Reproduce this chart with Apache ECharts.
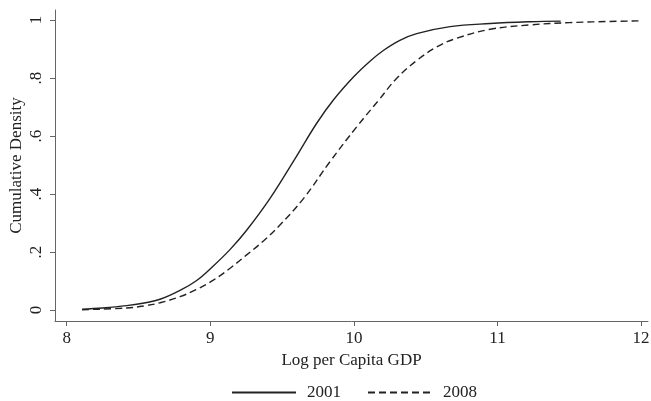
<!DOCTYPE html>
<html>
<head>
<meta charset="utf-8">
<script src="https://cdn.jsdelivr.net/npm/echarts@6/dist/echarts.min.js"></script>
<style>html,body{margin:0;padding:0;background:#fff;}#c{width:651px;height:401px;}</style>
</head>
<body>
<div id="c"></div>
<script>
const seriesNames = ['2001', '2008'];
const xTicks = [8, 9, 10, 11, 12];
const yTicks = [0, 0.2, 0.4, 0.6, 0.8, 1];
const cdf2001 = [[8.107,0.003],[8.25,0.007],[8.418,0.015],[8.55,0.025],[8.65,0.037],[8.789,0.068],[8.9,0.1],[9.021,0.152],[9.14,0.21],[9.253,0.275],[9.416,0.385],[9.60,0.53],[9.741,0.644],[9.857,0.724],[10.0,0.805],[10.112,0.858],[10.205,0.895],[10.32,0.93],[10.437,0.953],[10.67,0.977],[10.95,0.988],[11.226,0.994],[11.44,0.996]];
const cdf2008 = [[8.107,0.001],[8.418,0.007],[8.55,0.015],[8.65,0.025],[8.789,0.046],[8.9,0.07],[9.021,0.103],[9.14,0.145],[9.253,0.19],[9.37,0.238],[9.485,0.293],[9.65,0.385],[9.834,0.512],[10.02,0.632],[10.17,0.722],[10.3,0.8],[10.437,0.86],[10.58,0.908],[10.716,0.937],[10.948,0.968],[11.226,0.983],[11.5,0.991],[11.99,0.997]];

const font = 'Liberation Serif';
const chart = echarts.init(document.getElementById('c'));
chart.setOption({
  animation: false,
  backgroundColor: '#fff',
  grid: {left: 55, right: 3, top: 10, bottom: 80, containLabel: false, outerBoundsMode: 'none'},
  xAxis: {
    type: 'value', min: 7.9185, max: 12.048,
    name: 'Log per Capita GDP', nameLocation: 'middle', nameGap: 30,
    nameTextStyle: {fontFamily: font, fontSize: 17, color: '#222'},
    axisLine: {show: true, onZero: false, lineStyle: {color: '#666', width: 1}},
    axisTick: {show: true, length: 5, customValues: xTicks, lineStyle: {color: '#666'}},
    axisLabel: {customValues: xTicks, fontFamily: font, fontSize: 17, color: '#222', margin: 9},
    splitLine: {show: false}
  },
  yAxis: {
    type: 'value', min: -0.0379, max: 1.0345,
    name: 'Cumulative Density', nameLocation: 'middle', nameGap: 30, nameMoveOverlap: false,
    nameTextStyle: {fontFamily: font, fontSize: 17, color: '#222'},
    axisLine: {show: true, onZero: false, lineStyle: {color: '#666', width: 1}},
    axisTick: {show: true, length: 5, customValues: yTicks, lineStyle: {color: '#666'}},
    axisLabel: {customValues: yTicks, rotate: 90, fontFamily: font, fontSize: 17, color: '#222', margin: 10,
      formatter: v => v === 0 ? '0' : v === 1 ? '1' : String(Math.round(v*10)/10).replace(/^0/, '')},
    splitLine: {show: false}
  },
  legend: {
    top: 384, left: 231, padding: 0, itemWidth: 64, itemHeight: 10, itemGap: 26,
    itemStyle: {opacity: 0},
    textStyle: {fontFamily: font, fontSize: 17, color: '#222', padding: [0, 0, 0, 6]},
    data: seriesNames
  },
  series: [
    {name: seriesNames[0], type: 'line', data: cdf2001, smooth: 0.4, showSymbol: false, symbol: 'none',
     lineStyle: {color: '#222', width: 1.4, type: 'solid'}, itemStyle: {color: '#222'}},
    {name: seriesNames[1], type: 'line', data: cdf2008, smooth: 0.4, showSymbol: false, symbol: 'none',
     lineStyle: {color: '#222', width: 1.4, type: [7, 4]}, itemStyle: {color: '#222'}}
  ]
});
</script>
</body>
</html>
